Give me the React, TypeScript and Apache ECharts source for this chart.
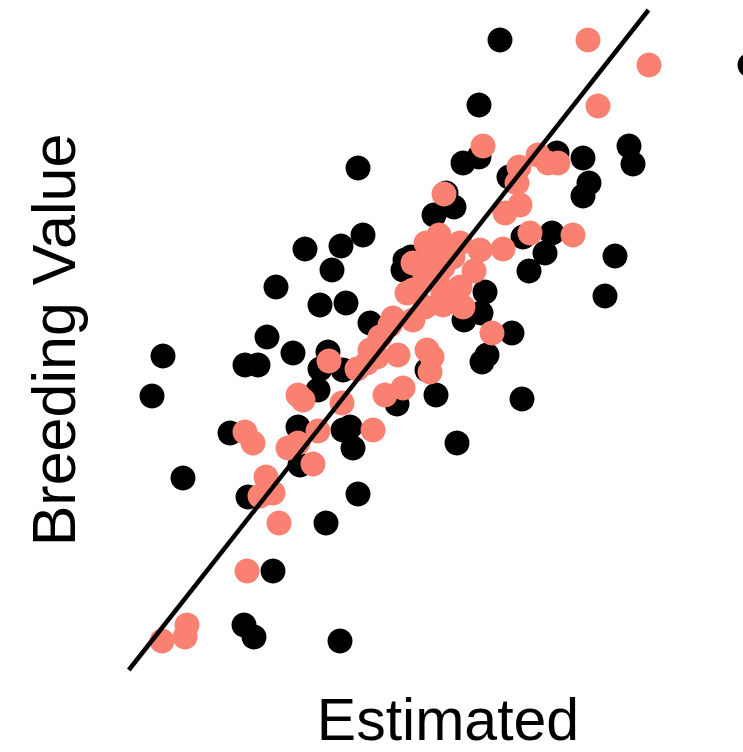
import React, { useEffect, useRef } from "react";
import * as echarts from "echarts";

// Estimated vs Breeding Value (units: standardized)
const blackPoints: [number, number][] = [
  [1.0, 3.6], [3.5, 3.35], [0.79, 2.95], [-0.42, 2.32], [0.79, 2.43], [0.63, 2.37],
  [2.29, 2.54], [2.33, 2.36], [1.83, 2.42], [1.89, 2.17], [1.83, 2.04], [1.57, 2.47],
  [1.09, 2.23], [0.46, 2.07], [0.54, 1.93], [0.34, 1.85], [2.15, 1.44], [2.05, 1.04],
  [1.29, 1.29], [1.45, 1.47], [1.52, 1.67], [1.23, 1.63], [-0.95, 1.51], [-0.59, 1.54],
  [-0.37, 1.65], [-0.68, 1.3], [-1.24, 1.13], [-0.8, 0.95], [-0.54, 0.97], [-1.33, 0.63],
  [-0.3, 0.77], [1.12, 0.67], [0.05, 1.4], [0.11, 1.43], [0.03, 1.3], [0.85, 1.08],
  [0.81, 0.87], [0.64, 0.8], [-2.37, 0.44], [-2.48, 0.04], [-1.55, 0.35], [-1.42, 0.35],
  [-1.07, 0.47], [-0.72, 0.48], [-0.8, 0.31], [-0.57, 0.3], [-0.82, 0.1], [-1.7, -0.33],
  [-1.02, -0.27], [-0.57, -0.3], [-0.47, -0.48], [-0.5, -0.27], [-1.0, -0.65], [-2.17, -0.78],
  [-1.52, -0.97], [-0.42, -0.94], [-0.74, -1.23], [-1.27, -1.71], [-1.56, -2.25], [-1.46, -2.37],
  [-0.6, -2.41], [0.57, -0.43], [0.36, 0.05], [-0.03, -0.04], [1.22, 0.01], [0.82, 0.38],
  [0.87, 0.45], [0.27, 0.3],
];

const salmonPoints: [number, number][] = [
  [1.88, 3.6], [2.49, 3.35], [1.98, 2.94], [0.83, 2.54], [1.38, 2.45], [1.48, 2.37],
  [1.58, 2.37], [1.19, 2.33], [1.17, 2.17], [1.2, 1.95], [1.05, 1.87], [1.3, 1.67],
  [1.73, 1.65], [1.03, 1.51], [0.8, 1.5], [0.6, 1.57], [0.39, 1.65], [0.74, 1.29],
  [0.44, 2.06], [0.27, 1.42], [0.53, 1.43], [0.43, 1.33], [0.25, 1.23], [0.13, 1.1],
  [0.43, 1.07], [0.63, 0.93], [0.43, 0.95], [0.25, 0.93], [-0.07, 0.82], [-0.2, 0.63],
  [-0.3, 0.5], [-0.02, 0.45], [0.27, 0.5], [0.32, 0.43], [0.3, 0.28], [0.92, 0.67],
  [-0.15, 0.05], [0.03, 0.12], [-0.33, 0.37], [-0.27, -0.3], [-0.71, 0.39], [-0.43, 0.31],
  [-0.23, 0.43], [-1.02, 0.05], [-0.97, 0.0], [-0.58, -0.03], [-1.55, -0.32], [-1.47, -0.43],
  [-0.82, -0.31], [-1.12, -0.48], [-1.02, -0.43], [-0.87, -0.64], [-1.34, -0.77], [-1.4, -0.96],
  [-1.27, -0.93], [-1.21, -1.23], [-1.53, -1.71], [-2.38, -2.41], [-2.13, -2.25], [-2.15, -2.37],
  [-0.1, 0.75], [0.13, 0.8], [0.13, 1.37], [0.37, 1.2], [0.6, 1.13], [0.07, 1.07],
  [0.43, 1.5], [0.26, 1.57],
];

const fitIntercept = 0.744;
const fitSlope = 1.27;

const xRange = [-4, 3.43];
const yRange = [-2.7, 3.9];

const xTitle = "Estimated";
const yTitle = "Breeding Value";

const FONT = "'Liberation Sans', Arial, Helvetica, sans-serif";

export default function App() {
  const ref = useRef<HTMLDivElement>(null);
  useEffect(() => {
    if (!ref.current) return;
    const chart = echarts.init(ref.current, undefined, { renderer: "svg" });
    const lineData = [
      [(yRange[0] - fitIntercept) / fitSlope, yRange[0]],
      [(yRange[1] - fitIntercept) / fitSlope, yRange[1]],
    ];
    chart.setOption({
      animation: false,
      backgroundColor: "#ffffff",
      grid: { left: 0, right: 0, top: 10, bottom: 82 },
      xAxis: {
        type: "value",
        min: xRange[0],
        max: xRange[1],
        axisLine: { show: false },
        axisTick: { show: false },
        axisLabel: { show: false },
        splitLine: { show: false },
      },
      yAxis: {
        type: "value",
        min: yRange[0],
        max: yRange[1],
        axisLine: { show: false },
        axisTick: { show: false },
        axisLabel: { show: false },
        splitLine: { show: false },
      },
      series: [
        {
          type: "line",
          data: lineData,
          symbol: "none",
          lineStyle: { color: "#000000", width: 4.5 },
          clip: true,
          silent: true,
        },
        {
          type: "scatter",
          data: blackPoints,
          symbolSize: 25,
          itemStyle: { color: "#000000", opacity: 1 },
          clip: false,
        },
        {
          type: "scatter",
          data: salmonPoints,
          symbolSize: 25,
          itemStyle: { color: "#FA8072", opacity: 1 },
          clip: false,
        },
      ],
      graphic: [
        {
          type: "text",
          x: 448,
          y: 720,
          style: {
            text: xTitle,
            fontSize: 59,
            fontFamily: FONT,
            fill: "#000000",
            textAlign: "center",
            textVerticalAlign: "middle",
          },
        },
        {
          type: "text",
          x: 54,
          y: 340,
          rotation: Math.PI / 2,
          style: {
            text: yTitle,
            fontSize: 61,
            fontFamily: FONT,
            fill: "#000000",
            textAlign: "center",
            textVerticalAlign: "middle",
          },
        },
      ],
    });
    return () => chart.dispose();
  }, []);
  return (
    <div
      ref={ref}
      style={{ position: "fixed", left: 0, top: 0, width: 743, height: 752, background: "#fff" }}
    />
  );
}
